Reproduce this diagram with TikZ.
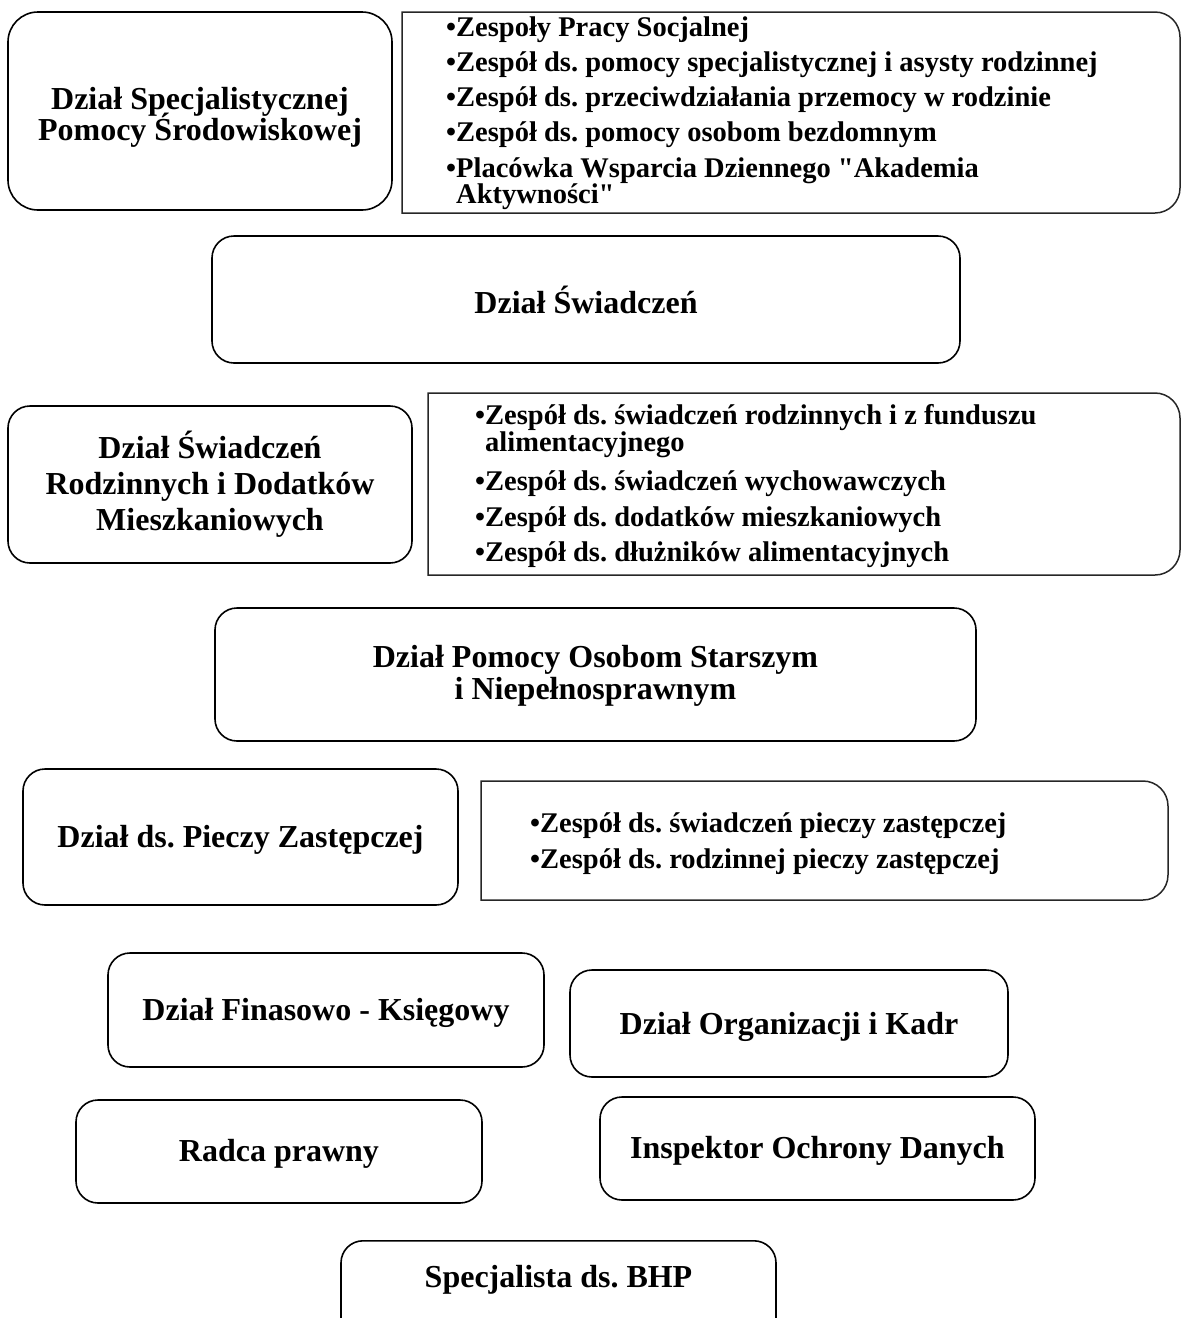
\documentclass[tikz,border=0pt]{standalone}
\usepackage{fontspec}
\newfontfamily\boxfont{Liberation Serif}
\newfontfamily\listfont{Liberation Serif}
\frenchspacing
\newcommand{\lboxshape}[4]{%
  \draw[listline] (#1,#2) -- ({#3-25},#2) .. controls ({#3-11.2},#2) and (#3,{#2+11.2}) .. (#3,{#2+25})
    -- (#3,{#4-25}) .. controls (#3,{#4-11.2}) and ({#3-11.2},#4) .. ({#3-25},#4) -- (#1,#4) -- cycle;}
\begin{document}
\frenchspacing
\lineskiplimit=-50pt\relax
\begin{tikzpicture}[x=1pt,y=-1pt,
  mainbox/.style={draw, line width=1.6pt, rounded corners=22pt, align=center, inner sep=0pt,
    font=\boxfont\bfseries\fontsize{32}{32}\selectfont},
  boxtext/.style={inner sep=0pt, align=center, font=\boxfont\bfseries\fontsize{32}{32}\selectfont},
  listline/.style={draw=black!85, line width=1.5pt},
  litem/.style={anchor=base west, inner sep=0pt, font=\listfont\bfseries\fontsize{28.5}{26}\selectfont}]
\useasboundingbox (0,0) rectangle (1182,1318);

% Row 1
\node[mainbox, rounded corners=30pt, minimum width=384pt, minimum height=198pt] (spec) at (200,111) {};
\node[boxtext, font=\boxfont\bfseries\fontsize{32}{31}\selectfont] (spect) at (200,117)
  {Dział Specjalistycznej\\Pomocy Środowiskowej};
\lboxshape{402}{12}{1180}{213}
\node[litem] (l1a) at (446,36) {•Zespoły Pracy Socjalnej};
\node[litem] (l1b) at (446,71) {•Zespół ds. pomocy specjalistycznej i asysty rodzinnej};
\node[litem] (l1c) at (446,106) {•Zespół ds. przeciwdziałania przemocy w rodzinie};
\node[litem] (l1d) at (446,141) {•Zespół ds. pomocy osobom bezdomnym};
\node[litem] (l1e) at (446,177) {•Placówka Wsparcia Dziennego "Akademia};
\node[litem] (l1f) at (446,203) {\phantom{•}Aktywności"};

% Row 2
\node[mainbox, minimum width=748pt, minimum height=127pt] (swiad) at (586,299.5) {Dział Świadczeń};

% Row 3
\node[mainbox, minimum width=404pt, minimum height=157pt, font=\boxfont\bfseries\fontsize{32}{36}\selectfont] (rodz) at (210,484.5)
  {Dział Świadczeń\\Rodzinnych i Dodatków\\Mieszkaniowych};
\lboxshape{428}{393}{1180}{575}
\node[litem] (l2a) at (475,424) {•Zespół ds. świadczeń rodzinnych i z funduszu};
\node[litem] (l2b) at (475,451) {\phantom{•}alimentacyjnego};
\node[litem] (l2c) at (475,490) {•Zespół ds. świadczeń wychowawczych};
\node[litem] (l2d) at (475,526) {•Zespół ds. dodatków mieszkaniowych};
\node[litem] (l2e) at (475,561) {•Zespół ds. dłużników alimentacyjnych};

% Row 4
\node[mainbox, minimum width=761pt, minimum height=133pt] (star) at (595.5,674.5) {};
\node[boxtext] (start) at (595.5,676) {Dział Pomocy Osobom Starszym\\i Niepełnosprawnym};

% Row 5
\node[mainbox, minimum width=435pt, minimum height=136pt] (piecz) at (240.5,837) {};
\node[boxtext] (pieczt) at (240.5,840) {Dział ds. Pieczy Zastępczej};
\lboxshape{481}{781}{1168}{900}
\node[litem] (l3a) at (530,832) {•Zespół ds. świadczeń pieczy zastępczej};
\node[litem] (l3b) at (530,868) {•Zespół ds. rodzinnej pieczy zastępczej};

% Row 6
\node[mainbox, minimum width=436pt, minimum height=114pt] (fin) at (326,1010) {};
\node[boxtext] (fint) at (326,1013) {Dział Finasowo - Księgowy};
\node[mainbox, minimum width=438pt, minimum height=107pt] (org) at (789,1023.5) {};
\node[boxtext] (orgt) at (789,1027) {Dział Organizacji i Kadr};

% Row 7
\node[mainbox, minimum width=406pt, minimum height=103pt] (radca) at (279,1151.5) {};
\node[boxtext] (radcat) at (279,1154) {Radca prawny};
\node[mainbox, minimum width=435pt, minimum height=103pt] (iod) at (817.5,1148.5) {};
\node[boxtext] (iodt) at (817.5,1151) {Inspektor Ochrony Danych};

% Row 8
\node[mainbox, minimum width=435pt, minimum height=110pt, anchor=north] (bhp) at (558.5,1240) {};
\node[boxtext, anchor=base] (bhpt) at (558.5,1287) {Specjalista ds. BHP};
\end{tikzpicture}
\end{document}
